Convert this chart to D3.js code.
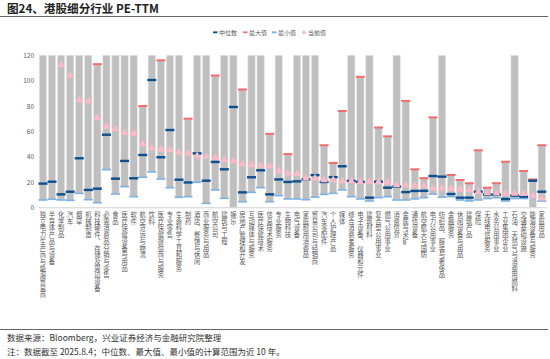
<!DOCTYPE html>
<html><head><meta charset="utf-8">
<script src="https://cdn.jsdelivr.net/npm/d3@7"></script>
<style>body{margin:0;background:#fff}svg{display:block}
.vlab{writing-mode:vertical-rl;text-orientation:upright;}</style>
</head><body><svg id="c" width="550" height="359"></svg>
<script>
const categories = [
"独立电力生产商与能源贸易商","半导体产品与设备","化学制品","汽车","烟草","机械制造","科技硬件、存储及周边设备","必需消费品分销与零售","食品","医疗保健设备与用品",
"软件","航空货运与物流","饮料","医疗保健提供商与服务","专业零售","生命科学工具和服务","制药","酒店、餐馆与休闲","商业服务与用品","航空公司",
"建筑与工程","娱乐","房地产管理和开发","互动媒体与服务","医疗保健技术","信息技术服务","专业服务","生物科技","电气设备","家庭耐用消费品",
"贸易公司与经销商","汽车零配件","个人护理产品","媒体","综合消费者服务","电子设备、仪器和元件","建筑材料","复合型公用事业","燃气公用事业","消费信贷",
"金属与采矿","通信设备","航空航天与国防","电力公用事业","纺织品、服装与奢侈品","金融服务","休闲设备与用品","建筑产品","保险","无线电信服务",
"水务公用事业","工业集团企业","石油、天然气与消费用燃料","交通基础设施","能源设备与服务","家庭用品"];
const maxVal = [
150,180,200,160,140,130,113,150,140,150,
160,80,150,116,170,140,70,200,150,104,
160,300,93,160,140,58,130,42,150,140,
140,49,35,76,160,103,150,63,56,140,
84,30,23,71,140,25.5,21.6,19,45,15.5,
19,36,150,28.7,22,49];
const minVal = [
5.8,6.3,5.8,5.5,11,6,3.6,29.7,10.5,16.3,
8.4,23.7,28,22.3,15.5,7.9,8.4,19.7,3.1,13.7,
7.1,-20,4.4,11.8,15.5,4.4,9.2,6.6,6.6,6,
8,10.2,11,13.7,8.4,6.6,5,7.6,8.4,5.8,
5.8,6.6,7.6,10.5,8,8.4,5.8,5,5.8,6.9,
7.6,5,6.9,6.9,-5,5];
const median = [
18.7,20.2,10.2,12.3,38.7,13.7,14.7,57.3,22.6,36.6,
22.9,41.3,100.5,39.5,61,21.8,19.6,42.6,21,35.8,
30,79.2,11.8,23.7,29.2,10.2,22,20,20.5,22,
25.4,20,23.8,32.4,20.8,20,7.6,20.2,15.5,16.3,
12,12.9,13,24.7,24.2,10.5,7.6,7.6,12.3,10,
10,6.6,9.2,8.4,21,12.3];
const current = [
135,125,112.3,103.9,84.7,83.9,70.7,63.7,61.8,58.9,
58.4,50,46.6,45.8,45.2,43.4,42.6,40.5,40,39.2,
37.3,36.6,34.2,33.4,33,32.5,28.7,26.8,26.5,22.9,
22.9,21.6,21.6,20.8,20.8,20.2,20.2,20,19.8,17.5,
17.3,17,16.8,15,15,14.7,14,13.6,12.3,11.2,
11,10.9,10.8,10.6,9.2,7.1];
const yTicks = [0,20,40,60,80,100,120];
const legendItems = ["中位数","最大值","最小值","当前值"];

const C = {median:"#0d4f8f", max:"#f36d6d", min:"#7cb1e6", cur:"#ffb8c6", bar:"#bfbfbf", text:"#595959"};
const svg = d3.select("#c");
const font = "'Noto Sans CJK SC','Noto Sans',sans-serif";

// title
svg.append("text").attr("x",7).attr("y",12.5).attr("font-family",font).attr("font-weight","bold")
  .attr("font-size",11.6).attr("fill","#222").text("图24、港股细分行业 PE-TTM");
svg.append("line").attr("x1",0).attr("x2",548).attr("y1",16.5).attr("y2",16.5).attr("stroke","#666").attr("stroke-width",1);

const x = d3.scaleBand().domain(categories).range([38.4,546.3]).paddingInner(0.2).paddingOuter(0.1);
const y = d3.scaleLinear().domain([0,120]).range([207.3,55.3]);
const clamp = v => Math.max(0, Math.min(120, v));
const idx = d3.range(categories.length);

// y axis
const yAxis = d3.axisLeft(y).tickValues(yTicks).tickSize(0).tickPadding(0);
const ga = svg.append("g").attr("transform","translate(34,0)").call(yAxis);
ga.select(".domain").remove();
ga.selectAll("text").attr("font-family",font).attr("font-size",6.5).attr("fill",C.text);

// bars
svg.append("g").selectAll("rect").data(idx).join("rect")
  .attr("x", i => x(categories[i]))
  .attr("width", x.bandwidth())
  .attr("y", i => y(clamp(maxVal[i])))
  .attr("height", i => y(clamp(minVal[i])) - y(clamp(maxVal[i])))
  .attr("fill", C.bar).attr("stroke","#e4e4e4").attr("stroke-width",0.6);

// x axis line
const xAxis = d3.axisBottom(x).tickSize(0).tickFormat("");
const gx = svg.append("g").attr("transform",`translate(0,${y(0)})`).call(xAxis);
gx.select(".domain").attr("stroke","#d0d0d0").attr("stroke-width",1);

// dash markers
const mw = 9;
function dashes(vals, color, h){
  svg.append("g").selectAll("rect").data(idx.filter(i => vals[i] >= 0 && vals[i] <= 120)).join("rect")
    .attr("x", i => x(categories[i]) + x.bandwidth()/2 - mw/2)
    .attr("width", mw)
    .attr("y", i => y(vals[i]) - h/2)
    .attr("height", h)
    .attr("fill", color);
}
dashes(maxVal, C.max, 2);
dashes(minVal, C.min, 1.6);
dashes(median, C.median, 2.4);

// triangles for current
const tri = d3.symbol().type(d3.symbolTriangle).size(26);
svg.append("g").selectAll("path").data(idx.filter(i => current[i] <= 120)).join("path")
  .attr("d", tri)
  .attr("transform", i => `translate(${x(categories[i]) + x.bandwidth()/2},${y(current[i])})`)
  .attr("fill", C.cur);

// category labels (vertical, upright)
svg.append("g").attr("font-family",font).attr("font-size",6.3).attr("fill",C.text)
  .selectAll("text").data(idx).join("text")
  .attr("class","vlab")
  .attr("x", i => x(categories[i]) + x.bandwidth()/2)
  .attr("y", 211.5)
  .attr("letter-spacing", 0.4)
  .text(i => categories[i]);

// legend
const lg = svg.append("g").attr("font-family",font).attr("font-size",6).attr("fill",C.text);
const lx = [213, 243, 272, 302];
const lc = [C.median, C.max, C.min, C.cur];
legendItems.forEach((name,k) => {
  if (k < 3) lg.append("rect").attr("x",lx[k]).attr("y",31.4).attr("width",4.5).attr("height",1.8).attr("fill",lc[k]);
  else lg.append("path").attr("d", d3.symbol().type(d3.symbolTriangle).size(10)).attr("transform",`translate(${lx[k]+2},32.3)`).attr("fill",lc[k]);
  lg.append("text").attr("x",lx[k]+6).attr("y",34.5).text(name);
});

// footer
svg.append("line").attr("x1",0).attr("x2",548).attr("y1",329.5).attr("y2",329.5).attr("stroke","#666").attr("stroke-width",1);
svg.append("text").attr("x",7).attr("y",341).attr("font-family",font).attr("font-size",8.5).attr("fill","#333")
  .text("数据来源：Bloomberg，兴业证券经济与金融研究院整理");
svg.append("text").attr("x",7).attr("y",354.5).attr("font-family",font).attr("font-size",8.5).attr("fill","#333")
  .text("注：数据截至 2025.8.4；中位数、最大值、最小值的计算范围为近 10 年。");
</script></body></html>
